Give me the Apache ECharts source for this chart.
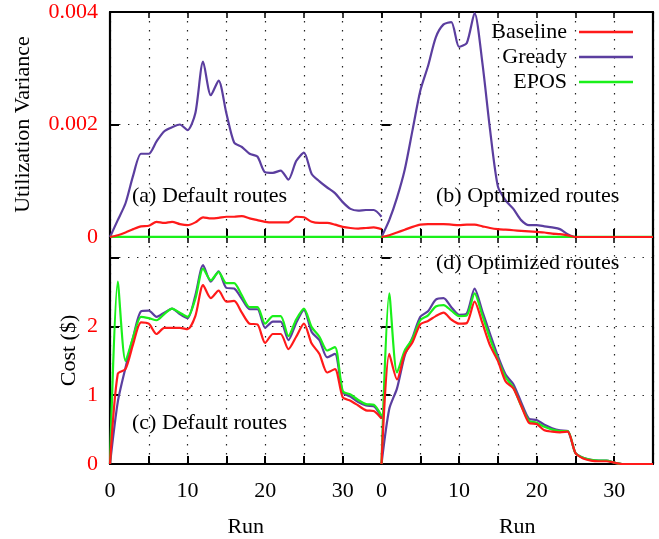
<!DOCTYPE html>
<html>
<head>
<meta charset="utf-8">
<script src="https://cdn.jsdelivr.net/npm/echarts@6/dist/echarts.min.js"></script>
<style>html,body{margin:0;padding:0;background:#fff;}#c{width:659px;height:539px;}</style>
</head>
<body>
<div id="c"></div>
<script>
// ---------- data ----------
var runs = [0,1,2,3,4,5,6,7,8,9,10,11,12,13,14,15,16,17,18,19,20,21,22,23,24,25,26,27,28,29,30,31,32,33,34,35];
var seriesNames = ['Baseline','Gready','EPOS'];
var xTickLabels = ['0','10','20','30'];
var varTickLabels = ['0','0.002','0.004'];
var costTickLabels = ['0','1','2'];
var panelLabels = ['(a) Default routes','(b) Optimized routes','(c) Default routes','(d) Optimized routes'];

// (a) Utilization variance, default routes
var varDefaultBaseline = [0,0.00003,0.00008,0.00014,0.00019,0.0002,0.00027,0.00025,0.00027,0.00023,0.00021,0.00026,0.00035,0.00033,0.00034,0.00036,0.00036,0.00037,0.00033,0.0003,0.00027,0.00026,0.00026,0.00026,0.00036,0.00035,0.00027,0.00025,0.00025,0.00022,0.00018,0.00016,0.00015,0.00016,0.00017,0.00014];
var varDefaultGready = [0,0.0003,0.0006,0.0011,0.00148,0.00148,0.0017,0.00188,0.00195,0.002,0.0019,0.0022,0.00312,0.00252,0.00278,0.0022,0.00168,0.0016,0.00148,0.00143,0.00115,0.00114,0.00118,0.00102,0.00135,0.0015,0.00112,0.00099,0.00088,0.00078,0.00062,0.0005,0.00047,0.00048,0.00048,0.00036];
var varDefaultEpos = [0.000004,0.000004,0.000004,0.000004,0.000004,0.000004,0.000004,0.000004,0.000004,0.000004,0.000004,0.000004,0.000004,0.000004,0.000004,0.000004,0.000004,0.000004,0.000004,0.000004,0.000004,0.000004,0.000004,0.000004,0.000004,0.000004,0.000004,0.000004,0.000004,0.000004,0.000004,0.000004,0.000004,0.000004,0.000004,0.000004];
// (b) Utilization variance, optimized routes
var varOptBaseline = [0,0.00003,0.00008,0.00013,0.00018,0.00022,0.00023,0.00023,0.00023,0.00022,0.00021,0.00022,0.00022,0.00019,0.00016,0.00014,0.00013,0.00012,0.00011,0.0001,0.00009,0.00008,0.00006,0.00005,0.00003,0,0,0,0,0,0,0,0,0,0,0];
var varOptGready = [0,0.0003,0.0007,0.0012,0.0019,0.0026,0.00304,0.00355,0.00378,0.00382,0.00338,0.00345,0.00398,0.0031,0.0019,0.0009,0.00065,0.0005,0.0003,0.00021,0.00021,0.00019,0.00017,0.00014,0.00005,0,0,0,0,0,0,0,0,0,0,0];
var varOptEpos = [0.000004,0.000004,0.000004,0.000004,0.000004,0.000004,0.000004,0.000004,0.000004,0.000004,0.000004,0.000004,0.000004,0.000004,0.000004,0.000004,0.000004,0.000004,0.000004,0.000004,0.000004,0.000004,0.000004,0.000004,0.000004,0.000004,0.000004,0.000004,0.000004,0.000004,0.000004,0.000004,0.000004,0.000004,0.000004,0.000004];
// (c) Cost, default routes
var costDefaultBaseline = [0,1.31,1.38,1.75,2.06,2.04,1.89,1.98,1.98,1.98,1.96,2.15,2.6,2.41,2.52,2.36,2.37,2.2,2.04,2.03,1.76,1.89,1.89,1.67,1.85,2.04,1.75,1.6,1.33,1.38,0.97,0.92,0.85,0.78,0.77,0.66];
var costDefaultGready = [0,0.9,1.4,1.85,2.22,2.23,2.14,2.2,2.26,2.18,2.12,2.45,2.89,2.65,2.8,2.56,2.55,2.4,2.25,2.25,1.98,2.07,2.07,1.8,2.05,2.24,1.92,1.8,1.55,1.6,1.04,0.98,0.9,0.85,0.84,0.68];
var costDefaultEpos = [0,2.65,1.5,1.85,2.14,2.12,2.09,2.18,2.26,2.2,2.14,2.4,2.84,2.67,2.79,2.63,2.63,2.45,2.28,2.28,2.04,2.15,2.15,1.86,2.1,2.26,1.99,1.85,1.65,1.7,1.06,1.01,0.93,0.87,0.86,0.7];
// (d) Cost, optimized routes
var costOptBaseline = [0,1.6,1.23,1.6,1.77,2.03,2.08,2.15,2.2,2.1,2.04,2.05,2.36,2.05,1.72,1.5,1.2,1.1,0.85,0.6,0.58,0.49,0.47,0.46,0.47,0.16,0.08,0.05,0.04,0.04,0.02,0,0,0,0,0];
var costOptGready = [0,0.8,1.1,1.58,1.84,2.14,2.22,2.39,2.41,2.28,2.17,2.19,2.55,2.22,1.89,1.57,1.3,1.16,0.9,0.66,0.64,0.57,0.52,0.49,0.48,0.16,0.09,0.06,0.05,0.05,0.02,0,0,0,0,0];
var costOptEpos = [0,2.48,1.33,1.65,1.82,2.09,2.16,2.29,2.31,2.23,2.15,2.16,2.48,2.16,1.82,1.52,1.26,1.11,0.85,0.63,0.6,0.54,0.5,0.48,0.48,0.16,0.09,0.06,0.05,0.05,0.02,0,0,0,0,0];

// ---------- chart ----------
var FONT = 'Liberation Serif';
var colors = ['#ff1a1a', '#5b3e9f', '#1af01a'];
var dotted = {color: '#222', width: 1.2, type: [1.4, 7.6]};

var panels = [
  {left:110, top:12, height:225, data:[varDefaultBaseline,varDefaultGready,varDefaultEpos], kind:'var', side:'L'},
  {left:381.5, top:12, height:225, data:[varOptBaseline,varOptGready,varOptEpos], kind:'var', side:'R'},
  {left:110, top:237, height:227.3, data:[costDefaultBaseline,costDefaultGready,costDefaultEpos], kind:'cost', side:'L'},
  {left:381.5, top:237, height:227.3, data:[costOptBaseline,costOptGready,costOptEpos], kind:'cost', side:'R'}
];
var W = 271.5;

var grid = [], xAxis = [], yAxis = [], series = [];
panels.forEach(function(p, i){
  grid.push({left:p.left, top:p.top, width:W, height:p.height, show:false, containLabel:false});
  var isBottom = p.kind === 'cost';
  xAxis.push({
    type:'value', gridIndex:i, min:0, max:35, interval:5, position:'bottom',
    axisLine:{show:true, onZero:false, lineStyle:{color:'#000', width:2.2}},
    axisTick:{show:true, inside:true, length:8, lineStyle:{color:'#000', width:2}},
    splitLine:{show:true, lineStyle:dotted},
    axisLabel:{show:isBottom, margin:16, color:'#000', fontSize:22, fontFamily:FONT,
      formatter:function(v){ var s=String(Math.round(v)); return xTickLabels.indexOf(s)>=0 ? s : ''; }},
    name: isBottom ? 'Run' : '', nameLocation:'middle', nameGap:52,
    nameTextStyle:{color:'#000', fontSize:22, fontFamily:FONT}
  });
  // mirrored top axis
  xAxis.push({
    type:'value', gridIndex:i, min:0, max:35, interval:5, position:'top',
    axisLine:{show:true, onZero:false, lineStyle:{color:'#000', width:2.2}}, axisLabel:{show:false}, splitLine:{show:false},
    axisTick:{show:true, inside:true, length:6, lineStyle:{color:'#000', width:1.5}}
  });
  var isVar = p.kind === 'var';
  var labelsAllowed = isVar ? varTickLabels : costTickLabels;
  yAxis.push({
    type:'value', gridIndex:i, min:0, max: isVar ? 0.004 : 3.3, interval: isVar ? 0.002 : 1, position:'left',
    axisLine:{show:p.side==='L', onZero:false, lineStyle:{color:'#000', width:2.2}},
    axisTick:{show:true, inside:true, length:9, lineStyle:{color:'#000', width:2}},
    splitLine:{show:true, lineStyle:dotted},
    axisLabel:{show:p.side==='L', margin:12, color:'#ff0000', fontSize:22, fontFamily:FONT,
      formatter:function(v){
        var s = isVar ? (v===0 ? '0' : v.toFixed(3)) : String(Math.round(v*100)/100);
        return labelsAllowed.indexOf(s)>=0 ? s : '';
      }},
    name: p.side==='L' ? (isVar ? 'Utilization Variance' : 'Cost ($)') : '',
    nameLocation:'middle', nameGap: isVar ? 76 : 30,
    nameTextStyle:{color:'#000', fontSize:22, fontFamily:FONT}
  });
  // right border for right-hand panels
  yAxis.push({
    type:'value', gridIndex:i, min:0, max: isVar ? 0.004 : 3.3, interval: isVar ? 0.002 : 1, position:'right',
    show: p.side==='R',
    axisLine:{show:true, onZero:false, lineStyle:{color:'#000', width:2.2}},
    axisTick:{show:false}, axisLabel:{show:false}, splitLine:{show:false}
  });
  p.data.forEach(function(arr, k){
    series.push({
      type:'line', name:seriesNames[k], xAxisIndex:i*2, yAxisIndex:i*2,
      data: runs.map(function(r, j){ return [r, arr[j]]; }),
      showSymbol:false, symbol:'none', smooth:0.25, clip:true,
      lineStyle:{color:colors[k], width:2.2}, itemStyle:{color:colors[k]},
      z: 3 + (k===1 ? 0 : k===2 ? 1 : 2), animation:false
    });
  });
});

var legends = seriesNames.map(function(n, k){
  return {
    data:[n], orient:'vertical', align:'right', right:21, top:16 + 25*k,
    icon:'rect', itemWidth:54, itemHeight:2.5, itemGap:0,
    selectedMode:false,
    textStyle:{color:'#000', fontSize:22, fontFamily:FONT, lineHeight:22, padding:[0,7,0,0]}
  };
});

var panelText = [
  {x:132, y:185, t:panelLabels[0]},
  {x:436, y:185, t:panelLabels[1]},
  {x:132, y:412, t:panelLabels[2]},
  {x:436, y:252, t:panelLabels[3]}
];

var chart = echarts.init(document.getElementById('c'), null, {renderer:'canvas'});
chart.setOption({
  backgroundColor:'#ffffff',
  animation:false,
  grid:grid, xAxis:xAxis, yAxis:yAxis, series:series,
  legend:legends,
  graphic: panelText.map(function(o){
    return {type:'text', left:o.x, top:o.y, z:10, style:{text:o.t, fill:'#000', fontSize:22, fontFamily:FONT}};
  })
});
</script>
</body>
</html>
